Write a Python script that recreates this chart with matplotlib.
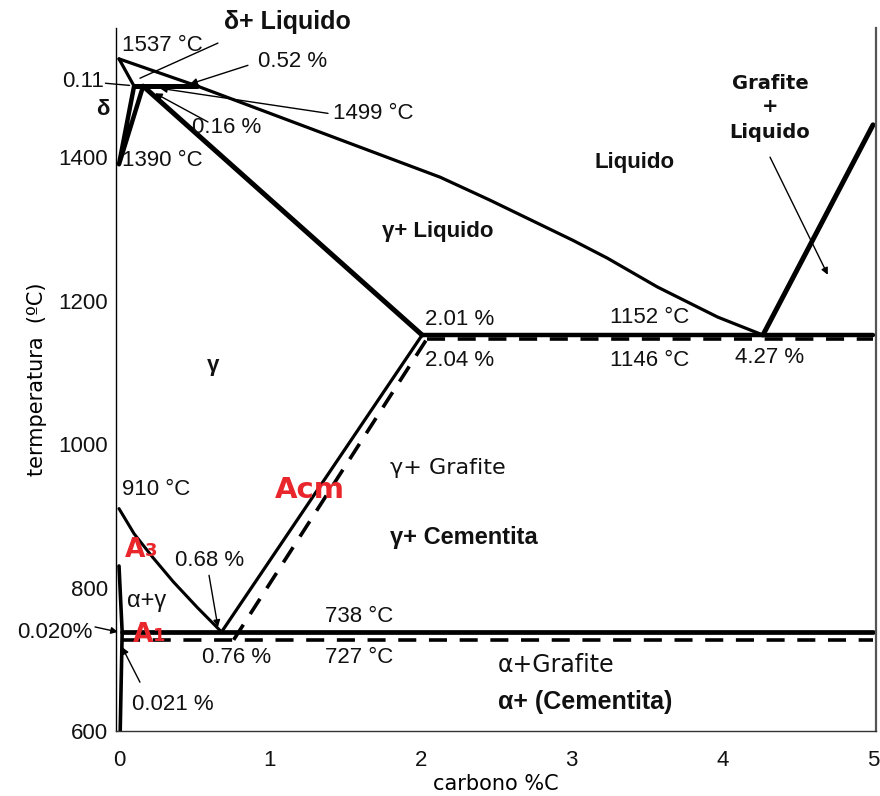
import matplotlib
matplotlib.use("Agg")
from matplotlib import pyplot as plt

# Fe-C diagram lines (carbon %, temperature degC)
liq_x = [0, 0.52, 2.13, 2.46, 3.01, 3.24, 3.57, 3.97, 4.27]
liq_T = [1537, 1499, 1372, 1340, 1284, 1259, 1219, 1177, 1152]
graf_x = [4.27, 5.0]
graf_T = [1152, 1445]
perit_x = [0.10, 0.52]
perit_T = [1499, 1499]
dsol_x = [0, 0.10]
dsol_T = [1537, 1499]
dsolv_x = [0.10, 0, 0.16]
dsolv_T = [1499, 1390, 1499]
gsol_x = [0.16, 2.01]
gsol_T = [1499, 1152]
eut_x = [2.01, 5.0]
eut_T = [1152, 1152]
eut2_x = [2.04, 5.0]
eut2_T = [1146, 1146]
acm_x = [0.68, 2.01]
acm_T = [738, 1152]
acm2_x = [0.76, 2.04]
acm2_T = [727, 1146]
a3_x = [0, 0.10, 0.22, 0.36, 0.52, 0.68]
a3_T = [910, 875, 843, 808, 772, 738]
alf_x = [0, 0.021, 0.008]
alf_T = [830, 738, 600]
eo_x = [0.02, 5.0]
eo_T = [738, 738]
eo2_x = [0.02, 5.0]
eo2_T = [727, 727]

yticks = [600, 800, 1000, 1200, 1400]
xticks = [0, 1, 2, 3, 4, 5]

RED = "#e8262b"
NUM = dict(family="Liberation Sans", fontsize=16, color="#111")
BOLD = dict(family="Liberation Sans", fontsize=16, fontweight="bold", color="#111")
DJ = dict(family="DejaVu Sans", fontsize=15, color="#111")

fig = plt.figure(figsize=(8.8, 7.96), dpi=100)
ax = fig.add_axes([0.1318, 0.0817, 0.8637, 0.8831])
ax.set_xlim(-0.02, 5.02)
ax.set_ylim(600, 1580)

k = dict(color="black", solid_capstyle="round", solid_joinstyle="round")
ax.plot(liq_x, liq_T, lw=2.3, **k)
ax.plot(graf_x, graf_T, lw=3.6, **k)
ax.plot(perit_x, perit_T, lw=3.6, **k)
ax.plot(dsol_x, dsol_T, lw=2.3, **k)
ax.plot(dsolv_x, dsolv_T, lw=3.2, **k)
ax.plot(gsol_x, gsol_T, lw=3.6, **k)
ax.plot(eut_x, eut_T, lw=3.2, **k)
ax.plot(acm_x, acm_T, lw=2.3, **k)
ax.plot(a3_x, a3_T, lw=2.2, **k)
ax.plot(alf_x, alf_T, lw=2.6, **k)
ax.plot(eo_x, eo_T, lw=3.4, **k)

dash = dict(color="black", lw=2.6, ls=(0, (5, 3.5)), dash_capstyle="butt")
ax.plot(eut2_x, eut2_T, **dash)
ax.plot(acm2_x, acm2_T, **dash)
ax.plot(eo2_x, eo2_T, **dash)

# axes frame
ax.spines["top"].set_visible(False)
ax.spines["left"].set_linewidth(1.0)
ax.spines["bottom"].set_linewidth(1.0)
ax.spines["bottom"].set_color("#333")
ax.spines["right"].set_linewidth(1.6)
ax.spines["right"].set_color("#555")

ax.set_xticks(xticks)
ax.set_xticklabels([str(v) for v in xticks], **NUM)
ax.set_yticks(yticks)
ax.set_yticklabels([str(v) for v in yticks], **NUM)
ax.tick_params(axis="both", length=0)
ax.tick_params(axis="x", pad=14)
ax.tick_params(axis="y", pad=6)
ax.set_xlabel("carbono %C", family="DejaVu Sans", fontsize=15, labelpad=2)
ax.set_ylabel("termperatura  (ºC)", family="DejaVu Sans", fontsize=15, labelpad=8)


def txt(x, y, s, ha="left", **kw):
    return ax.text(x, y, s, ha=ha, va="center", clip_on=False, **kw)


def arrow(x0, y0, x1, y1, head=True):
    ax.annotate("", xy=(x1, y1), xytext=(x0, y0), annotation_clip=False,
                arrowprops=dict(arrowstyle="-|>" if head else "-", lw=1.0,
                                color="black", mutation_scale=10,
                                shrinkA=0, shrinkB=0))


def red_label(x, y, digit):
    a = txt(x, y, "A", family="DejaVu Sans", fontsize=19, fontweight="bold", color=RED)
    ax.annotate(digit, xy=(0.98, 0.12), xycoords=a, ha="left", va="bottom",
                family="DejaVu Sans", fontsize=13, fontweight="bold", color=RED)


# upper-left region
txt(1.114, 1588, "δ+ Liquido", ha="center", **dict(BOLD, fontsize=18))
txt(0.02, 1556, "1537 °C", **NUM)
arrow(0.656, 1559, 0.139, 1510, head=False)
txt(0.92, 1533, "0.52 %", **NUM)
arrow(0.855, 1528, 0.471, 1502)
txt(-0.10, 1505, "0.11", ha="right", **NUM)
arrow(-0.09, 1503, 0.07, 1500, head=False)
txt(-0.11, 1466, "δ", ha="center", **BOLD)
txt(1.42, 1461, "1499 °C", **NUM)
arrow(1.386, 1461, 0.272, 1496)
txt(0.484, 1441, "0.16 %", **NUM)
arrow(0.59, 1449, 0.239, 1489)
txt(0.02, 1396, "1390 °C", **NUM)

# liquid side
txt(3.42, 1392, "Liquido", ha="center", **BOLD)
GL = dict(DJ, fontweight="bold", fontsize=14)
txt(4.317, 1503, "Grafite", ha="center", **GL)
txt(4.317, 1470, "+", ha="center", **GL)
txt(4.317, 1435, "Liquido", ha="center", **GL)
arrow(4.317, 1400, 4.70, 1236)
txt(2.115, 1296, "γ+ Liquido", ha="center", **BOLD)

# eutectic
txt(2.03, 1173, "2.01 %", **NUM)
txt(3.256, 1176, "1152 °C", **NUM)
txt(2.03, 1117, "2.04 %", **NUM)
txt(3.256, 1117, "1146 °C", **NUM)
txt(4.085, 1120, "4.27 %", **NUM)
txt(0.623, 1110, "γ", ha="center", **BOLD)

# austenite / eutectoid
txt(1.797, 967, "γ+ Grafite", **dict(DJ, fontsize=16))
txt(1.797, 870, "γ+ Cementita", **dict(BOLD, fontsize=17))
txt(0.02, 936, "910 °C", **NUM)
txt(1.266, 936, "Acm", ha="center", family="DejaVu Sans", fontsize=21,
    fontweight="bold", color=RED)
red_label(0.04, 852, "3")
txt(0.371, 838, "0.68 %", **NUM)
arrow(0.597, 817, 0.656, 745)
txt(0.05, 781, "α+γ", **dict(NUM, fontsize=17))
txt(-0.179, 737, "0.020%", ha="right", **NUM)
arrow(-0.159, 745, -0.007, 738)
red_label(0.09, 734, "1")
txt(1.366, 760, "738 °C", **NUM)
txt(1.366, 702, "727 °C", **NUM)
txt(0.55, 703, "0.76 %", **NUM)
txt(2.513, 692, "α+Grafite", **dict(DJ, fontsize=17))
txt(2.513, 640, "α+ (Cementita)", **dict(BOLD, fontsize=18))
txt(0.086, 637, "0.021 %", **NUM)
arrow(0.139, 668, 0.02, 717)

fig.savefig("out.png", dpi=100)
